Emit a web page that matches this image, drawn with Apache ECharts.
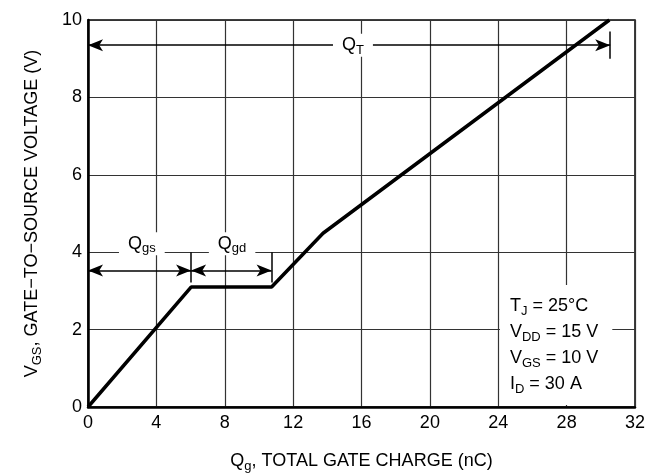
<!DOCTYPE html>
<html>
<head>
<meta charset="utf-8">
<script src="https://cdn.jsdelivr.net/npm/echarts@6/dist/echarts.min.js"></script>
<style>
  html, body { margin: 0; padding: 0; background: #fff; }
  #chart { width: 651px; height: 474px; }
</style>
</head>
<body>
<div id="chart"></div>
<script>
  // gate charge curve (nC, V)
  const qg = [0, 6.03, 10.74, 13.75, 30.5];
  const vgs = [0, 3.1, 3.1, 4.49, 10];

  // dimension arrows: [from, to, level]
  const qtSpan = [0, 30.55, 9.35];
  const qgsSpan = [0, 6.03, 3.53];
  const qgdSpan = [6.03, 10.74, 3.53];
  // end bars: [x, yLow, yHigh]
  const endBars = [[30.55, 9.0, 9.7], [6.03, 3.22, 4.0], [10.74, 3.22, 4.0]];

  // label anchors [x, y]
  const labelPos = [[15.5, 9.35], [3.15, 4.22], [8.43, 4.22]];
  const labelText = ['{b|Q}{s|T}', '{b|Q}{s|gs}', '{b|Q}{s|gd}'];

  // conditions box (anchored at its left edge)
  const condPos = [24.1, 1.6];
  const condText = '{b|T}{s|J}{b| = 25°C}\n{b|V}{s|DD}{b| = 15 V}\n{b|V}{s|GS}{b| = 10 V}\n{b|I}{s|D}{b| = 30 A}';

  const font = '"Liberation Sans", Arial, sans-serif';
  const rich = {
    b: { fontSize: 18, fontFamily: font, color: '#000' },
    s: { fontSize: 13, fontFamily: font, color: '#000', padding: [10, 0, 0, 0] }
  };

  let myChart = echarts.init(document.getElementById('chart'));

  let curve = [];
  for (let i = 0; i < qg.length; i++) {
    curve.push([qg[i], vgs[i]]);
  }

  let arrows = [];
  for (let s of [qtSpan, qgsSpan, qgdSpan]) {
    arrows.push([{coord: [s[0], s[2]]}, {coord: [s[1], s[2]]}]);
  }
  for (let b of endBars) {
    arrows.push([
      {coord: [b[0], b[1]], symbol: 'none'},
      {coord: [b[0], b[2]], symbol: 'none'}
    ]);
  }

  myChart.setOption({
    animation: false,
    grid: {
      left: 88,
      right: 16,
      top: 20,
      bottom: 67,
      outerBoundsMode: 'none',
      containLabel: false,
      show: true,
      borderColor: '#000',
      borderWidth: 1.5
    },
    xAxis: {
      type: 'value',
      min: 0,
      max: 32,
      interval: 4,
      name: '{b|Q}{s|g}{b|, TOTAL GATE CHARGE (nC)}',
      nameLocation: 'middle',
      nameGap: 43,
      nameTextStyle: { rich: rich },
      axisLine: { lineStyle: { color: '#000', width: 2.5 } },
      axisTick: { show: false },
      axisLabel: { color: '#000', fontSize: 18, fontFamily: font, margin: 7 },
      splitLine: { lineStyle: { color: '#333', width: 1.2 } }
    },
    yAxis: {
      type: 'value',
      min: 0,
      max: 10,
      interval: 2,
      name: '{b|V}{s|GS}{b|, GATE−TO−SOURCE VOLTAGE (V)}',
      nameLocation: 'middle',
      nameGap: 44,
      nameTextStyle: { rich: rich },
      axisLine: { onZero: false, lineStyle: { color: '#000', width: 2.5 } },
      axisTick: { show: false },
      axisLabel: { color: '#000', fontSize: 18, fontFamily: font, margin: 6 },
      splitLine: { lineStyle: { color: '#333', width: 1.2 } }
    },
    series: [
      {
        name: 'curve',
        type: 'line',
        data: curve,
        showSymbol: false,
        lineStyle: { color: '#000', width: 3.5 },
        z: 3,
        markLine: {
          silent: true,
          symbol: ['arrow', 'arrow'],
          symbolSize: [9, 15],
          label: { show: false },
          lineStyle: { color: '#000', width: 1.5, type: 'solid' },
          data: arrows
        }
      },
      {
        name: 'labels',
        type: 'scatter',
        symbolSize: 0,
        data: labelPos,
        z: 10,
        itemStyle: { opacity: 1 },
        label: {
          show: true,
          position: 'inside',
          formatter: function (p) {
            return labelText[p.dataIndex];
          },
          backgroundColor: '#fff',
          padding: [0, 9, 0, 9],
          color: '#000',
          fontSize: 18,
          rich: rich
        }
      },
      {
        name: 'conditions',
        type: 'scatter',
        symbolSize: 0,
        data: [condPos],
        z: 10,
        itemStyle: { opacity: 1 },
        label: {
          show: true,
          position: 'inside',
          align: 'left',
          verticalAlign: 'middle',
          formatter: condText,
          backgroundColor: '#fff',
          padding: [8, 14, 8, 10],
          lineHeight: 26,
          color: '#000',
          fontSize: 18,
          rich: rich
        }
      }
    ]
  });
</script>
</body>
</html>
